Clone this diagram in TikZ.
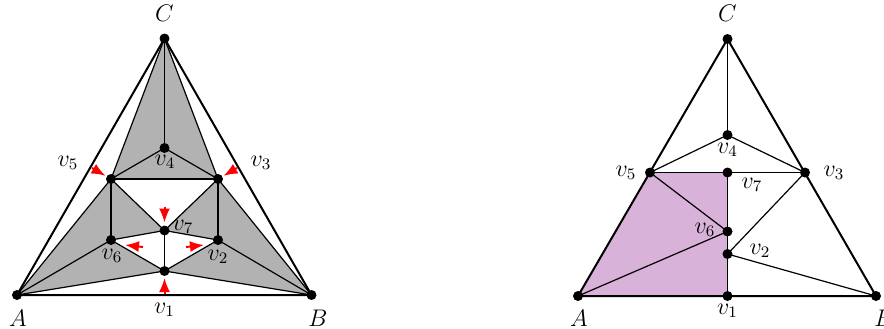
\documentclass[tikz,border=0pt]{standalone}
\usetikzlibrary{arrows.meta,calc}
\begin{document}
\begin{tikzpicture}[x=0.5pt,y=-0.5pt,
  dot/.style={circle,fill=black,inner sep=0pt,minimum size=5pt},
  lbl/.style={inner sep=0pt,font=\fontsize{12}{14}\selectfont},
  outer/.style={line width=1pt},
  inner/.style={line width=0.6pt},
  redarr/.style={red,line width=1pt,-{Latex[length=7pt,width=5.5pt]}},
  shade/.style={fill=black!30},
  pinkfill/.style={fill=violet!30}]
\useasboundingbox (0,0) rectangle (884,328);
% ---------- left diagram ----------
\coordinate (lA) at (17,295);
\coordinate (lB) at (311.5,295);
\coordinate (lC) at (164.5,38.5);
\coordinate (l4) at (164.5,148);
\coordinate (l5) at (111,179);
\coordinate (l3) at (218,179);
\coordinate (l7) at (164.5,230.5);
\coordinate (l6) at (111,240);
\coordinate (l2) at (218,240);
\coordinate (l1) at (164.5,271);
\fill[shade] (lC)--(l5)--(l3)--cycle;
\fill[shade] (lA)--(l5)--(l7)--(l6)--(l1)--cycle;
\fill[shade] (lB)--(l3)--(l7)--(l2)--(l1)--cycle;
\draw[inner] (lA)--(l5)--(lC)--(l3)--(lB);
\draw[inner] (lA)--(l1)--(lB);
\draw[inner] (lC)--(l4);
\draw[inner] (l5)--(l4)--(l3);
\draw[inner] (l5)--(l3);
\draw[inner] (l5)--(l6);
\draw[inner] (l3)--(l2);
\draw[inner] (l5)--(l7)--(l3);
\draw[inner] (l6)--(l7)--(l2);
\draw[inner] (l7)--(l1);
\draw[inner] (l6)--(l1)--(l2);
\draw[inner] (lA)--(l6);
\draw[inner] (lB)--(l2);
\draw[outer] (lA)--(lB)--(lC)--cycle;
\foreach \p in {lA,lB,lC,l1,l2,l3,l4,l5,l6,l7} \node[dot] (d\p) at (\p) {};
\coordinate (t5) at ($(l5)+(-19,-11)$);   \coordinate (h5) at ($(l5)+(-5.5,-3.2)$);
\coordinate (t3) at ($(l3)+(19,-11)$);    \coordinate (h3) at ($(l3)+(5.5,-3.2)$);
\coordinate (t1) at ($(l1)+(0,23)$);      \coordinate (h1) at ($(l1)+(0,7)$);
\coordinate (t7) at ($(l7)+(0,-24)$);     \coordinate (h7) at ($(l7)+(0,-8)$);
\coordinate (t6) at ($(l6)+(32,7)$);      \coordinate (h6) at ($(l6)+(14,5)$);
\coordinate (t2) at ($(l2)+(-32,7)$);     \coordinate (h2) at ($(l2)+(-14,5)$);
\foreach \k in {5,3,1,7,6,2} \draw[redarr] (t\k)--(h\k);
\node[lbl] (LA) at (18,318) {$A$};
\node[lbl] (LB) at (318,318) {$B$};
\node[lbl] (LC) at (164.5,13) {$C$};
\node[lbl] (L1) at (164.5,310) {$v_1$};
\node[lbl] (L2) at (218,257) {$v_2$};
\node[lbl] (L3) at (261,163) {$v_3$};
\node[lbl] (L4) at (165,162) {$v_4$};
\node[lbl] (L5) at (68,163) {$v_5$};
\node[lbl] (L6) at (112,256) {$v_6$};
\node[lbl] (L7) at (183,227) {$v_7$};
% ---------- right diagram ----------
\coordinate (rA) at (578,296);
\coordinate (rB) at (876,296);
\coordinate (rC) at (727.5,39);
\coordinate (r4) at (727.5,135);
\coordinate (r5) at (650,172.5);
\coordinate (r3) at (805,172.5);
\coordinate (r7) at (727.5,172.5);
\coordinate (r6) at (727.5,231.5);
\coordinate (r2) at (727.5,254);
\coordinate (r1) at (727.5,296);
\fill[pinkfill] (rA)--(r5)--(r7)--(r1)--cycle;
\draw[inner] (r5)--(r7)--(r3);
\draw[inner] (r7)--(r6)--(r2)--(r1);
\draw[inner] (rC)--(r4);
\draw[inner] (r5)--(r4)--(r3);
\draw[inner] (r5)--(r6)--(rA);
\draw[inner] (r3)--(r2)--(rB);
\draw[outer] (rA)--(rB)--(rC)--cycle;
\foreach \p in {rA,rB,rC,r1,r2,r3,r4,r5,r6,r7} \node[dot] (d\p) at (\p) {};
\node[lbl] (RA) at (579,318) {$A$};
\node[lbl] (RB) at (884,318) {$B$};
\node[lbl] (RC) at (727.5,13) {$C$};
\node[lbl] (R1) at (727.5,311) {$v_1$};
\node[lbl] (R2) at (760,251) {$v_2$};
\node[lbl] (R3) at (834,173) {$v_3$};
\node[lbl] (R4) at (727.5,150) {$v_4$};
\node[lbl] (R5) at (626,173) {$v_5$};
\node[lbl] (R6) at (705,230) {$v_6$};
\node[lbl] (R7) at (752,185) {$v_7$};
\end{tikzpicture}
\end{document}
